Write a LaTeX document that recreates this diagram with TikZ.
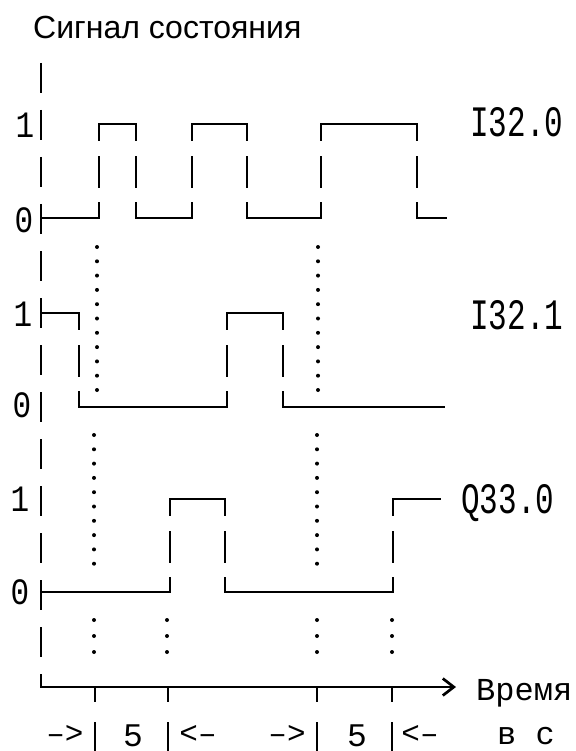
\documentclass[tikz,border=0pt]{standalone}
\usepackage{fontspec}
\setmainfont{Liberation Sans}
\newfontfamily\typefont{Liberation Mono}
\usetikzlibrary{arrows.meta}
\begin{document}
\begin{tikzpicture}[x=1pt,y=-1pt,
  sig/.style={line width=2.7pt, line cap=rect},
  edgeline/.style={sig, dash pattern=on 16pt off 17pt on 30pt off 16pt on 40pt},
  axisv/.style={line width=2.7pt, dash pattern=on 30pt off 17pt},
  guide/.style={line width=4pt, line cap=round, dash pattern=on 0pt off 14.3pt},
  guideshort/.style={guide, dash pattern=on 0pt off 16pt},
  tickline/.style={line width=2.4pt},
  lvl/.style={font=\typefont\fontsize{31}{31}\selectfont, yscale=1.2, inner sep=0pt, anchor=center},
  digit/.style={font=\typefont\fontsize{33}{33}\selectfont, inner sep=0pt, anchor=base},
  lbl/.style={font=\typefont\fontsize{31}{31}\selectfont, yscale=1.4, inner sep=0pt, anchor=base west},
  cyr/.style={font=\typefont\fontsize{32}{32}\selectfont, inner sep=0pt, anchor=base west},
  arr/.style={font=\typefont\fontsize{31}{31}\selectfont, inner sep=0pt, anchor=center},
]
\useasboundingbox (0,0) rectangle (575,751);
\fill[white] (0,0) rectangle (575,751);

% title
\node[anchor=base west, font=\fontsize{32}{32}\selectfont, inner sep=0pt] (title) at (33,39) {Сигнал состояния};

% axis
\coordinate (axtop) at (41,63);
\coordinate (origin) at (41,687);
\coordinate (axend) at (456,687);
\draw[axisv] (axtop) -- (origin);
\draw[sig, -{Straight Barb[length=11pt,width=17pt]}] (origin) -- (axend);
\node[cyr] (time) at (476,700) {Время};
\node[cyr] (unit) at (497,744) {в с};

% level labels
\node[lvl] (a1) at (25,125) {1};
\node[lvl] (a0) at (24,220) {0};
\node[lvl] (b1) at (23,314) {1};
\node[lvl] (b0) at (22,405) {0};
\node[lvl] (c1) at (20,499) {1};
\node[lvl] (c0) at (20,592) {0};

% signal labels
\node[lbl] (sigA) at (470,137) {I32.0};
\node[lbl] (sigB) at (470,329) {I32.1};
\node[lbl] (sigC) at (461,513) {Q33.0};

% I32.0
\draw[sig] (41,218) -- (99,218);
\draw[sig] (136,218) -- (192,218);
\draw[sig] (247,218) -- (321,218);
\draw[sig] (417,218) -- (446,218);
\draw[sig] (99,124) -- (136,124);
\draw[sig] (192,124) -- (247,124);
\draw[sig] (321,124) -- (417,124);
\foreach \x in {99,136,192,247,321,417} \draw[edgeline] (\x,124) -- (\x,218);

% I32.1
\draw[sig] (41,313) -- (79,313);
\draw[sig] (79,407) -- (227,407);
\draw[sig] (227,313) -- (283,313);
\draw[sig] (283,407) -- (444,407);
\foreach \x in {79,227,283} \draw[edgeline] (\x,313) -- (\x,407);

% Q33.0
\draw[sig] (41,592) -- (170,592);
\draw[sig] (170,499) -- (225,499);
\draw[sig] (225,592) -- (393,592);
\draw[sig] (393,499) -- (440,499);
\foreach \x in {170,225,393} \draw[edgeline] (\x,499) -- (\x,592);

% dotted guides
\draw[guide] (97,247) -- (97,390);
\draw[guide] (94,435) -- (94,572);
\draw[guideshort] (94,620) -- (94,668);
\draw[guide] (318,247) -- (318,390);
\draw[guide] (317,435) -- (317,572);
\draw[guideshort] (317,620) -- (317,668);
\draw[guideshort] (167,620) -- (167,668);
\draw[guideshort] (392,620) -- (392,668);

% ticks and bars
\foreach \x in {95,168,317,392} {
  \draw[tickline] (\x,687) -- (\x,702);
  \draw[tickline] (\x,722) -- (\x,751);
}

% bottom labels
\node[arr] (r1) at (65,734) {–>};
\node[digit] (five1) at (133,746) {5};
\node[arr] (l1) at (198,734) {<–};
\node[arr] (r2) at (287,734) {–>};
\node[digit] (five2) at (357,746) {5};
\node[arr] (l2) at (420,734) {<–};
\end{tikzpicture}
\end{document}
